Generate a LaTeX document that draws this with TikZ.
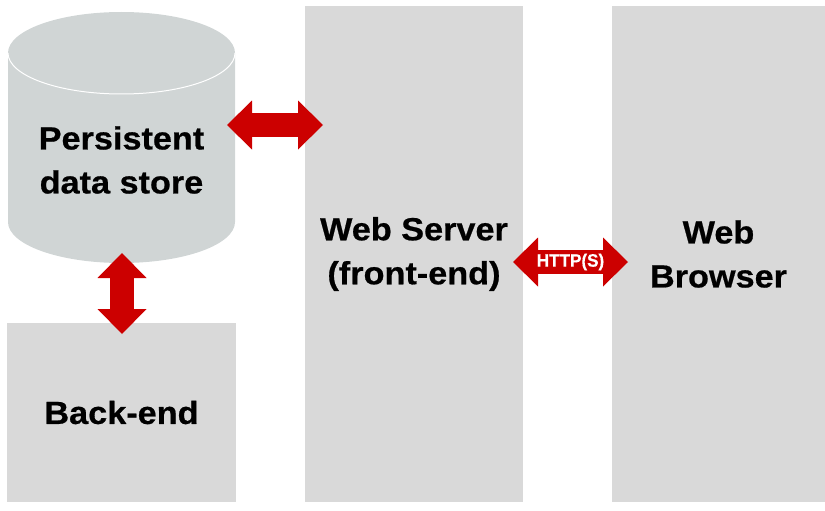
\documentclass[tikz,border=0pt]{standalone}
\usepackage{fontspec}
\setmainfont{Liberation Sans}[FakeStretch=1.07,FakeBold=0.6]
\newfontfamily\labelfont{Liberation Sans}[FakeStretch=0.95,FakeBold=0.4]
\usetikzlibrary{arrows.meta}
\definecolor{boxgray}{HTML}{D9D9D9}
\definecolor{cylgray}{HTML}{D0D5D5}
\definecolor{arrred}{HTML}{CC0000}
\begin{document}
\begin{tikzpicture}[x=1pt,y=-1pt,
  bigtext/.style={font=\fontsize{32}{44}\selectfont\bfseries, align=center, inner sep=0pt},
  box/.style={bigtext, fill=boxgray, draw=none},
  bigtip/.tip={Triangle[length=25pt,width=49pt,line width=0pt]},
  bigarrow/.style={draw=arrred, line width=24pt, bigtip-bigtip},
  arrowlabel/.style={text=white, font=\labelfont\fontsize{18}{18}\selectfont\bfseries, inner sep=0pt}
]
\useasboundingbox (0,0) rectangle (825,511);
% cylinder (persistent data store)
\fill[cylgray] (8,53) -- (8,222)
  arc[start angle=180,end angle=360,x radius=113.5pt,y radius=41pt]
  -- (235,53)
  arc[start angle=0,end angle=180,x radius=113.5pt,y radius=41pt] -- cycle;
\draw[white, line width=1pt] (8,53)
  arc[start angle=180,end angle=360,x radius=113.5pt,y radius=41pt];
\node[bigtext] (db) at (121.5,160) {Persistent\\data store};
% boxes
\node[box, minimum width=229pt, minimum height=179pt] (be) at (121.5,412.5) {Back-end};
\node[box, minimum width=218pt, minimum height=496pt] (ws) at (414,254) {Web Server\\(front-end)};
\node[box, minimum width=213pt, minimum height=496pt] (wb) at (718.5,254) {Web\\Browser};
% arrow end points
\coordinate (dbR) at (227,125);
\coordinate (wsL) at (323,125);
\coordinate (dbB) at (122,253);
\coordinate (beT) at (122,334);
\coordinate (wsR) at (513,262);
\coordinate (wbL) at (628,262);
% connectors
\draw[bigarrow] (dbR) -- (wsL);
\draw[bigarrow] (dbB) -- (beT);
\draw[bigarrow] (wsR) -- node[arrowlabel] (http) {HTTP(S)} (wbL);
\end{tikzpicture}
\end{document}
